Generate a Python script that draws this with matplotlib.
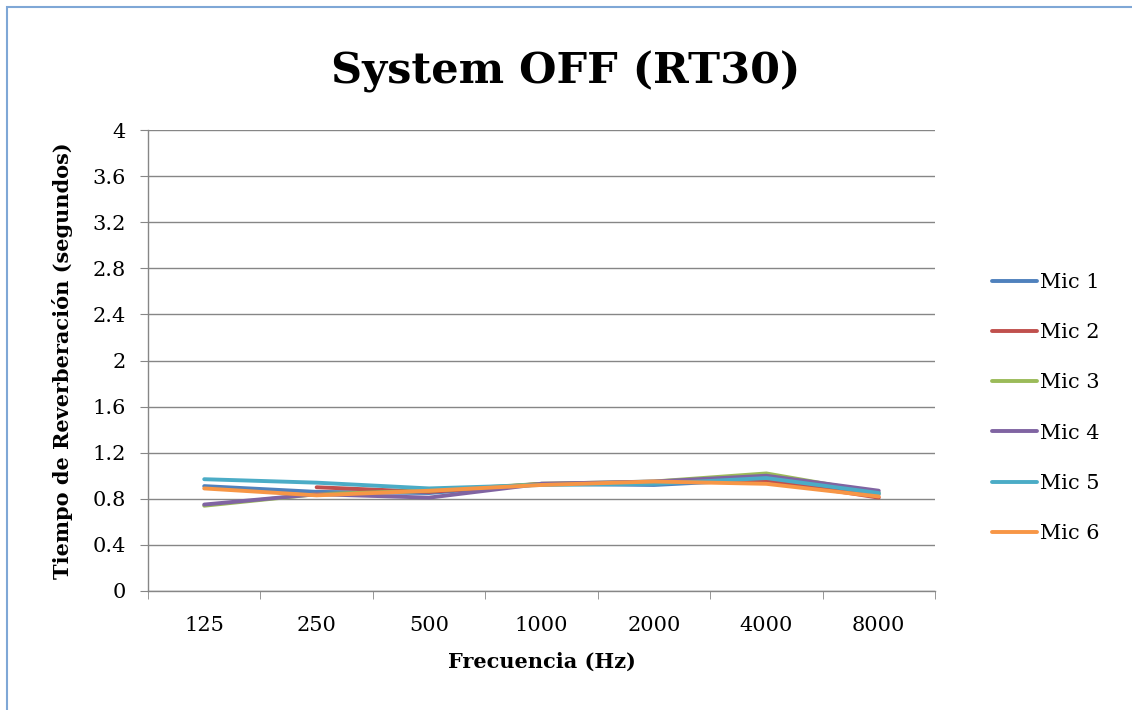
import matplotlib
matplotlib.use("Agg")
import matplotlib.pyplot as plt
from matplotlib.patches import Rectangle
import numpy as np

frequencies = ["125", "250", "500", "1000", "2000", "4000", "8000"]
mic1 = [0.91, 0.86, 0.85, 0.93, 0.92, 0.97, 0.84]
mic2 = [None, 0.90, 0.86, 0.93, 0.94, 0.96, 0.81]
mic3 = [0.74, 0.84, 0.87, 0.93, 0.95, 1.02, 0.85]
mic4 = [0.75, 0.84, 0.81, 0.93, 0.95, 1.00, 0.87]
mic5 = [0.97, 0.94, 0.89, 0.92, 0.93, 0.98, 0.85]
mic6 = [0.89, 0.83, 0.87, 0.92, 0.95, 0.93, 0.82]

series = [
    ("Mic 1", mic1, "#4F81BD"),
    ("Mic 2", mic2, "#C0504D"),
    ("Mic 3", mic3, "#9BBB59"),
    ("Mic 4", mic4, "#8064A2"),
    ("Mic 5", mic5, "#4BACC6"),
    ("Mic 6", mic6, "#F79646"),
]
y_ticks = [0, 0.4, 0.8, 1.2, 1.6, 2, 2.4, 2.8, 3.2, 3.6, 4]

serif = ["DejaVu Serif"]
fig = plt.figure(figsize=(11.32, 7.10), dpi=100)
fig.patches.append(Rectangle((7 / 1132, -0.01), 1.02, 1 - 7 / 710 + 0.01,
                             transform=fig.transFigure, fill=False,
                             edgecolor="#7FA7D6", linewidth=1.5))

ax = fig.add_axes([148 / 1132, 1 - 591 / 710, (935 - 148) / 1132, (591 - 130) / 710])
x = np.arange(len(frequencies))
for name, vals, color in series:
    v = np.array([np.nan if a is None else a for a in vals], dtype=float)
    ax.plot(x, v, color=color, linewidth=2.8, label=name, solid_capstyle="round")

ax.set_xlim(-0.5, len(frequencies) - 0.5)
ax.set_ylim(0, 4)
ax.set_yticks(y_ticks)
ax.set_yticklabels([f"{t:g}" for t in y_ticks], fontfamily=serif, fontsize=15)
ax.set_xticks(x)
ax.set_xticklabels(frequencies, fontfamily=serif, fontsize=15)
ax.set_xticks(np.arange(-0.5, len(frequencies)), minor=True)
ax.tick_params(axis="x", which="major", length=0, pad=18)
ax.tick_params(axis="x", which="minor", length=6, color="#868686")
ax.tick_params(axis="y", length=6, color="#868686", pad=10)
ax.grid(axis="y", color="#868686", linewidth=1)
ax.set_axisbelow(True)
for s in ["top", "right"]:
    ax.spines[s].set_visible(False)
for s in ["left", "bottom"]:
    ax.spines[s].set_color("#868686")
    ax.spines[s].set_linewidth(1)

ax.set_xlabel("Frecuencia (Hz)", fontfamily=serif, fontsize=15, fontweight="bold", labelpad=12)
ax.set_ylabel("Tiempo de Reverberación (segundos)", fontfamily=serif, fontsize=15,
              fontweight="bold", labelpad=14)
fig.text(566 / 1132, 1 - 72 / 710, "System OFF (RT30)", fontfamily=serif, fontsize=31,
         fontweight="bold", ha="center", va="center")

ax.legend(loc="center left", bbox_to_anchor=(1.048, 0.397), frameon=False,
          prop={"family": serif, "size": 15}, handlelength=2.2, labelspacing=1.5,
          handletextpad=0.15)

fig.savefig("out.png", dpi=100)
